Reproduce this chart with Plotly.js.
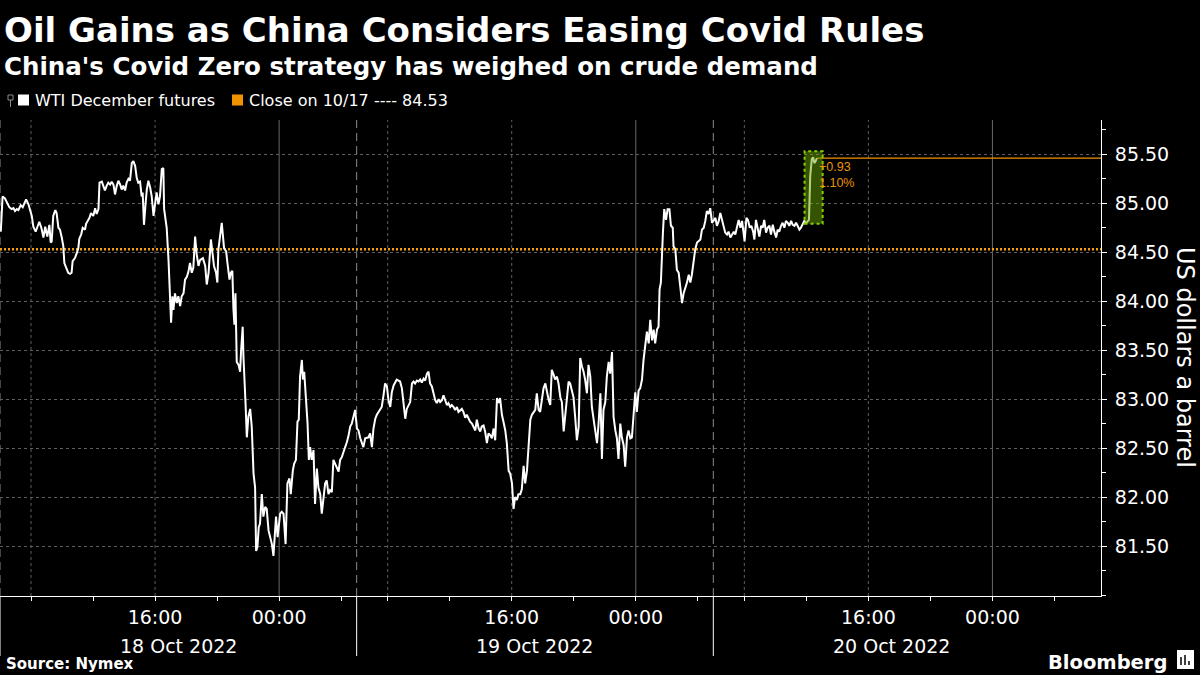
<!DOCTYPE html>
<html>
<head>
<meta charset="utf-8">
<script src="https://cdn.plot.ly/plotly-3.0.1.min.js"></script>
<style>
html,body{margin:0;padding:0;background:#000;}
#chart{width:1200px;height:675px;}
</style>
</head>
<body>
<div id="chart"></div>
<script>
// ---- DATA (times are clock minutes since 18 Oct 2022 00:00, chart local time) ----
const oct18Minutes = [
363,370,379,388,396,405,412,418,425,431,
440,448,453,461,470,476,483,489,498,505,
512,520,528,535,543,551,556,560,566,574,
579,586,592,599,605,609,618,624,631,637,
641,650,657,663,667,674,680,689,693,699,
706,712,721,728,734,741,745,754,760,766,
773,779,786,792,799,805,812,818,825,831,
837,844,850,857,863,870,876,883,889,895,
902,908,912,917,924,928,934,941,947,954,
960,966,973,979,986,992,995,1001,1005,1012,
1018,1022,1027,1031,1037,1044,1050,1057,1063,1070,
1076,1083,1089,1095,1102,1108,1115,1121,1128,1134,
1145,1154,1160,1167,1176,1183,1188,1196,1201,1205,
1212,1218,1227,1235,1240,1248,1253,1259,1263,1267,
1271,1276,1283,1289,1293,1299,1302,1306,1310,1315,
1321,1328,1334,1341,1347,1351,1356,1361,1366,1373,
1379,1386,1392,1399,1405,1412,1418,1425,1428,1434,
1439,1444,1450,1457,1465,1472,1480,1485,1493,1498,
1505,1511,1516,1521,1528,1532,1537,1542,1550,1555,
1560,1566,1573,1579,1586,1592,1599,1605,1612,1618,
1624,1631,1637,1644,1650,1657,1663,1670,1676,1683,
1689,1695,1702,1708,1715,1721,1728,1734
];
const oct18Prices = [
84.71,85.07,85.05,85.00,84.96,84.94,84.95,84.92,84.94,84.93,
84.98,84.96,84.99,85.04,84.99,84.94,84.87,84.76,84.71,84.76,
84.81,84.75,84.65,84.76,84.66,84.78,84.60,84.61,84.87,84.93,
84.90,84.75,84.73,84.65,84.56,84.39,84.34,84.29,84.28,84.29,
84.41,84.44,84.49,84.54,84.64,84.68,84.75,84.73,84.79,84.82,
84.85,84.90,84.87,84.95,84.89,84.94,85.21,85.22,85.16,85.13,
85.18,85.21,85.19,85.22,85.19,85.09,85.18,85.23,85.19,85.14,
85.18,85.13,85.21,85.25,85.23,85.41,85.43,85.38,85.26,85.21,
85.22,85.07,85.11,84.78,85.02,85.14,85.23,85.16,85.07,84.87,
84.99,85.11,84.99,85.07,85.35,85.36,84.94,84.83,84.75,84.42,
84.01,83.78,84.05,83.91,84.08,83.98,84.05,83.95,84.05,84.08,
84.22,84.25,84.30,84.39,84.29,84.34,84.66,84.48,84.36,84.42,
84.44,84.36,84.17,84.29,84.63,84.46,84.36,84.29,84.19,84.53,
84.70,84.80,84.54,84.51,84.39,84.22,84.29,84.31,83.93,83.76,
84.08,83.38,83.35,83.28,83.50,83.74,83.43,83.09,82.96,82.61,
82.82,82.90,82.72,82.24,82.10,81.45,81.49,81.69,81.73,82.03,
81.80,81.90,81.88,81.66,81.59,81.52,81.40,81.73,81.80,81.59,
81.73,81.83,81.85,81.83,81.52,82.14,82.19,82.03,82.27,82.34,
82.38,82.77,82.79,83.23,83.40,83.20,83.28,83.09,82.75,82.38,
82.51,82.38,82.48,81.93,82.29,82.10,82.03,81.83,81.97,82.14,
82.17,82.03,82.07,82.05,82.38,82.34,82.31,82.26,82.38,82.41,
82.46,82.50,82.56,82.62,82.72,82.75,82.82,82.89
];
const oct19Minutes = [
1801,1807,1814,1820,1826,1833,1846,1852,1859,1865,
1872,1878,1884,1891,1897,1904,1910,1917,1923,1930,
1936,1943,1949,1955,1962,1968,1975,1981,1988,1994,
2001,2007,2014,2020,2026,2033,2039,2046,2052,2059,
2065,2072,2078,2084,2091,2097,2104,2110,2117,2123,
2130,2136,2143,2149,2155,2162,2168,2175,2181,2188,
2194,2201,2207,2213,2220,2226,2233,2239,2246,2252,
2259,2265,2272,2278,2284,2291,2297,2304,2310,2317,
2323,2330,2336,2343,2349,2355,2362,2368,2375,2381,
2388,2394,2401,2407,2413,2420,2426,2433,2439,2446,
2452,2459,2465,2472,2478,2484,2491,2497,2504,2510,
2517,2523,2530,2536,2543,2549,2555,2562,2568,2575,
2581,2588,2594,2601,2607,2613,2620,2626,2633,2639,
2646,2652,2659,2665,2672,2678,2684,2691,2697,2704,
2710,2717,2723,2730,2736,2743,2749,2755,2762,2768,
2775,2781,2788,2794,2801,2807,2813,2820,2826,2833,
2839,2846,2852,2859,2865,2872,2878,2884,2891,2897,
2904,2910,2917,2923,2930,2936,2943,2949,2955,2962,
2968,2972,2977,2981,2985,2990,2997,3003,3010,3016,
3023,3026,3033,3039,3046,3052,3059,3065,3072,3078,
3085,3091,3097,3104,3110,3117,3123,3130,3136,3143,
3149,3155,3162,3168,3175
];
const oct19Prices = [
82.70,82.68,82.60,82.56,82.51,82.60,82.61,82.65,82.51,82.70,
82.80,82.84,82.87,82.89,82.92,83.04,83.16,83.13,82.99,82.92,
83.07,83.14,83.18,83.20,83.19,83.18,83.11,82.94,82.80,82.90,
82.94,82.97,83.16,83.18,83.16,83.19,83.18,83.20,83.17,83.21,
83.19,83.26,83.28,83.16,83.13,83.07,82.99,82.96,83.00,82.97,
82.99,83.04,82.98,82.94,82.96,82.92,82.94,82.92,82.89,82.92,
82.87,82.89,82.90,82.87,82.81,82.84,82.80,82.77,82.75,82.72,
82.68,82.79,82.70,82.67,82.72,82.73,82.67,82.55,82.65,82.63,
82.60,82.70,82.58,83.01,82.96,83.01,82.84,82.77,82.68,82.55,
82.27,82.24,82.14,81.88,82.00,81.97,82.03,82.03,82.08,82.32,
82.14,82.27,82.49,82.79,82.84,82.87,82.89,83.06,82.89,82.87,
83.02,83.11,83.16,83.06,82.99,82.94,83.30,83.25,83.20,83.23,
83.16,83.02,82.97,82.67,82.82,82.99,83.18,83.16,83.09,83.02,
82.80,82.58,82.72,83.42,83.33,83.28,83.20,83.06,83.35,83.23,
82.92,82.77,82.67,82.55,82.75,83.06,82.39,82.89,82.97,83.23,
83.38,83.26,83.48,82.82,82.68,82.60,82.39,82.75,82.61,82.53,
82.31,82.61,82.68,82.60,82.61,82.90,83.07,82.87,83.09,83.11,
83.20,83.40,83.54,83.69,83.57,83.81,83.60,83.71,83.57,83.71,
83.74,84.12,84.19,84.53,84.70,84.94,84.83,84.94,84.94,84.77,
84.75,84.56,84.53,84.32,84.29,84.15,83.98,84.08,84.13,84.19,
84.27,84.19,84.27,84.42,84.53,84.60,84.61,84.63,84.73,84.75,
84.82,84.92,84.89,84.95,84.80
];
const oct20Minutes = [
3241,3248,3254,3261,3267,3274,3280,3286,3293,3299,
3306,3312,3319,3325,3332,3338,3345,3351,3357,3361,
3368,3374,3381,3387,3394,3399,3405,3412,3418,3425,
3431,3437,3444,3450,3457,3463,3470,3476,3483,3489,
3495,3502,3508,3515,3521,3528,3534,3541,3547,3554,
3560,3566,3573,3579,3586,3592,3599,3605,3610,3615,
3621,3626,3631,3636,3641
];
const oct20Prices = [
84.82,84.85,84.77,84.82,84.90,84.83,84.75,84.70,84.68,84.71,
84.65,84.68,84.71,84.68,84.75,84.83,84.75,84.82,84.70,84.61,
84.85,84.83,84.75,84.77,84.71,84.63,84.83,84.73,84.66,84.77,
84.75,84.83,84.70,84.75,84.77,84.68,84.78,84.71,84.65,84.73,
84.71,84.77,84.80,84.75,84.82,84.80,84.77,84.82,84.78,84.77,
84.80,84.77,84.73,84.75,84.78,84.82,84.80,84.82,84.83,85.28,
85.45,85.47,85.41,85.43,85.46
];

const previousClose = 84.53;
const previousCloseLabel = "10/17";
const seriesName = "WTI December futures";

const priceTickValues = [81.5, 82.0, 82.5, 83.0, 83.5, 84.0, 84.5, 85.0, 85.5];
const priceTickLabels = ["81.50","82.00","82.50","83.00","83.50","84.00","84.50","85.00","85.50"];

const tickTimes = [
"2022-10-18 08:00","2022-10-18 12:00","2022-10-18 16:00","2022-10-18 20:00",
"2022-10-19 00:00","2022-10-19 04:00","2022-10-19 08:00","2022-10-19 12:00","2022-10-19 16:00","2022-10-19 20:00",
"2022-10-20 00:00","2022-10-20 04:00","2022-10-20 08:00","2022-10-20 12:00","2022-10-20 16:00","2022-10-20 20:00",
"2022-10-21 00:00","2022-10-21 04:00"
];
const tickLabels = [
"","","16:00","",
"00:00","","","","16:00","",
"00:00","","","","16:00","",
"00:00",""
];
const dashedGridTimes = ["2022-10-18 08:00","2022-10-18 16:00","2022-10-19 08:00","2022-10-19 16:00","2022-10-20 08:00","2022-10-20 16:00"];
const midnightTimes = ["2022-10-19 00:00","2022-10-20 00:00","2022-10-21 00:00"];
const sessionStarts = ["2022-10-18 06:00","2022-10-19 06:00","2022-10-20 06:00"];
const dayLabels = ["18 Oct 2022","19 Oct 2022","20 Oct 2022"];
const dayLabelTimes = ["2022-10-18 17:30","2022-10-19 17:30","2022-10-20 17:30"];
const xStart = "2022-10-18 06:00";
const xEnd = "2022-10-21 08:00";

// ---- BUILD ----
function toDate(m){
  const d = new Date(Date.UTC(2022,9,18) + m*60000);
  return d.toISOString().slice(0,16).replace('T',' ');
}
const minutes = oct18Minutes.concat(oct19Minutes, oct20Minutes);
const prices = oct18Prices.concat(oct19Prices, oct20Prices);
const xs = minutes.map(toDate);
const n = prices.length;
const last = prices[n-1];
const lastX = xs[n-1];
const change = last - previousClose;
const pct = change / previousClose * 100;

// highlight box around the final move (last 7 samples)
const hiStart = n - 7;
const hiPrices = prices.slice(hiStart);
const boxX0 = toDate(minutes[hiStart] - 17);
const boxX1 = toDate(minutes[n-1] + 22);
const boxY0 = Math.min(...hiPrices) - 0.04;
const boxY1 = Math.max(...hiPrices) + 0.06;

const FONT = "DejaVu Sans";
const ORANGE = "#f39200";
const GRID = "#5e5e5e";

const traces = [
  {x:[xStart, xEnd], y:[previousClose, previousClose], mode:'lines',
   line:{color:'#f5a00a', width:2.5, dash:'2px,2px'}, hoverinfo:'skip', showlegend:false},
  {x:xs, y:prices, mode:'lines', name:seriesName,
   line:{color:'#ffffff', width:2}, showlegend:false},
  {x:[lastX, xEnd], y:[last, last], mode:'lines',
   line:{color:ORANGE, width:1.3}, hoverinfo:'skip', showlegend:false}
];

const shapes = [];
dashedGridTimes.forEach(t => shapes.push({type:'line', xref:'x', yref:'paper', x0:t, x1:t, y0:0, y1:1,
  line:{color:GRID, width:1, dash:'3px,3px'}, layer:'below'}));
midnightTimes.forEach(t => shapes.push({type:'line', xref:'x', yref:'paper', x0:t, x1:t, y0:0, y1:1,
  line:{color:'#666666', width:1}, layer:'below'}));
sessionStarts.forEach(t => {
  shapes.push({type:'line', xref:'x', yref:'paper', x0:t, x1:t, y0:0, y1:1,
    line:{color:'#8a8a8a', width:1, dash:'8px,5px'}, layer:'below'});
  shapes.push({type:'line', xref:'x', yref:'paper', x0:t, x1:t, y0:-0.126, y1:0,
    line:{color:'#ffffff', width:1}, layer:'above'});
});
// highlight box
shapes.push({type:'rect', xref:'x', yref:'y', x0:boxX0, x1:boxX1, y0:boxY0, y1:boxY1,
  fillcolor:'rgba(105,165,0,0.5)', line:{color:'#86d000', width:2, dash:'dot'}, layer:'above'});

// legend swatches (paper coords of the header band)
const W = 1101, TOP = 120, BOT = 596, H = BOT - TOP;
const px = v => v / W;
const py = v => (BOT - v) / H;
shapes.push({type:'rect', xref:'paper', yref:'paper', x0:px(8), x1:px(13), y0:py(100), y1:py(95),
  line:{color:'#8a8a8a', width:1}, fillcolor:'rgba(0,0,0,0)'});
shapes.push({type:'line', xref:'paper', yref:'paper', x0:px(10.5), x1:px(10.5), y0:py(107), y1:py(100),
  line:{color:'#8a8a8a', width:1}});
shapes.push({type:'rect', xref:'paper', yref:'paper', x0:px(18), x1:px(29), y0:py(105.5), y1:py(94.5),
  line:{width:0}, fillcolor:'#ffffff'});
shapes.push({type:'rect', xref:'paper', yref:'paper', x0:px(232), x1:px(243), y0:py(105.5), y1:py(94.5),
  line:{width:0}, fillcolor:ORANGE});
// bloomberg badge
shapes.push({type:'rect', xref:'paper', yref:'paper', x0:px(1177), x1:px(1194), y0:py(669), y1:py(650),
  line:{width:0}, fillcolor:'#ffffff'});
[1181,1185,1189].forEach((bx,i) => shapes.push({type:'line', xref:'paper', yref:'paper',
  x0:px(bx), x1:px(bx), y0:py(665), y1:py(657 + i*2 - (i===1?4:0)), line:{color:'#000', width:1.5}}));

const annotations = [
  {text:'Oil Gains as China Considers Easing Covid Rules', xref:'paper', yref:'paper', x:px(2), y:py(30.2),
   xanchor:'left', yanchor:'middle', showarrow:false, font:{family:FONT, size:34, color:'#fff', weight:'bold'}},
  {text:"China's Covid Zero strategy has weighed on crude demand", xref:'paper', yref:'paper', x:px(2), y:py(66.1),
   xanchor:'left', yanchor:'middle', showarrow:false, font:{family:FONT, size:24.5, color:'#fff', weight:'bold'}},
  {text:seriesName, xref:'paper', yref:'paper', x:px(33), y:py(100.5),
   xanchor:'left', yanchor:'middle', showarrow:false, font:{family:FONT, size:16, color:'#fff'}},
  {text:'Close on ' + previousCloseLabel + ' ---- ' + previousClose.toFixed(2), xref:'paper', yref:'paper', x:px(247), y:py(100.5),
   xanchor:'left', yanchor:'middle', showarrow:false, font:{family:FONT, size:16, color:'#fff'}},
  {text:'US dollars a barrel', xref:'paper', yref:'paper', x:px(1185), y:py(357), textangle:90,
   xanchor:'center', yanchor:'middle', showarrow:false, font:{family:FONT, size:24, color:'#fff'}},
  {text:'Source: Nymex', xref:'paper', yref:'paper', x:px(4), y:py(663.5),
   xanchor:'left', yanchor:'middle', showarrow:false, font:{family:FONT, size:15, color:'#fff', weight:'bold'}},
  {text:'Bloomberg', xref:'paper', yref:'paper', x:px(1169), y:py(662),
   xanchor:'right', yanchor:'middle', showarrow:false, font:{family:FONT, size:19.5, color:'#fff', weight:'bold'}},
  {text:(change >= 0 ? '+' : '') + change.toFixed(2), x:lastX, y:last, xref:'x', yref:'y',
   xanchor:'left', yanchor:'middle', xshift:0, yshift:-9, showarrow:false,
   font:{family:'Liberation Sans', size:12.5, color:'#e8920a'}},
  {text:pct.toFixed(2) + '%', x:lastX, y:last, xref:'x', yref:'y',
   xanchor:'left', yanchor:'middle', xshift:0, yshift:-25, showarrow:false,
   font:{family:'Liberation Sans', size:12.5, color:'#e8920a'}}
];
dayLabels.forEach((lab, i) => annotations.push({text:lab, x:dayLabelTimes[i], xref:'x', yref:'paper', y:py(646),
  xanchor:'center', yanchor:'middle', showarrow:false, font:{family:FONT, size:19, color:'#fff'}}));

const layout = {
  width:1200, height:675,
  paper_bgcolor:'#000', plot_bgcolor:'#000',
  margin:{l:0, r:1200-W, t:TOP, b:675-BOT, pad:0},
  showlegend:false,
  font:{family:FONT, color:'#fff'},
  xaxis:{
    type:'date', range:[xStart, xEnd],
    rangebreaks:[{pattern:'hour', bounds:[5,6]}],
    tickmode:'array', tickvals:tickTimes, ticktext:tickLabels,
    ticks:'outside', ticklen:4, tickcolor:'#fff', tickwidth:1,
    showline:true, linecolor:'#fff', linewidth:1,
    showgrid:false, zeroline:false,
    tickfont:{family:FONT, size:19, color:'#fff'},
    fixedrange:true
  },
  yaxis:{
    side:'right', range:[80.99, 85.85],
    tickmode:'array', tickvals:priceTickValues, ticktext:priceTickLabels,
    ticks:'outside', ticklen:5, tickcolor:'#fff', tickwidth:1,
    showline:true, linecolor:'#fff', linewidth:1,
    showgrid:true, gridcolor:GRID, gridwidth:1, griddash:'3px,3px',
    zeroline:false,
    minor:{tick0:81, dtick:0.25, ticks:'outside', ticklen:4, tickcolor:'#fff', showgrid:false},
    tickfont:{family:FONT, size:19, color:'#fff'},
    ticklabelstandoff:4,
    fixedrange:true
  },
  shapes:shapes,
  annotations:annotations
};

Plotly.newPlot('chart', traces, layout, {displayModeBar:false, staticPlot:true});
</script>
</body>
</html>
